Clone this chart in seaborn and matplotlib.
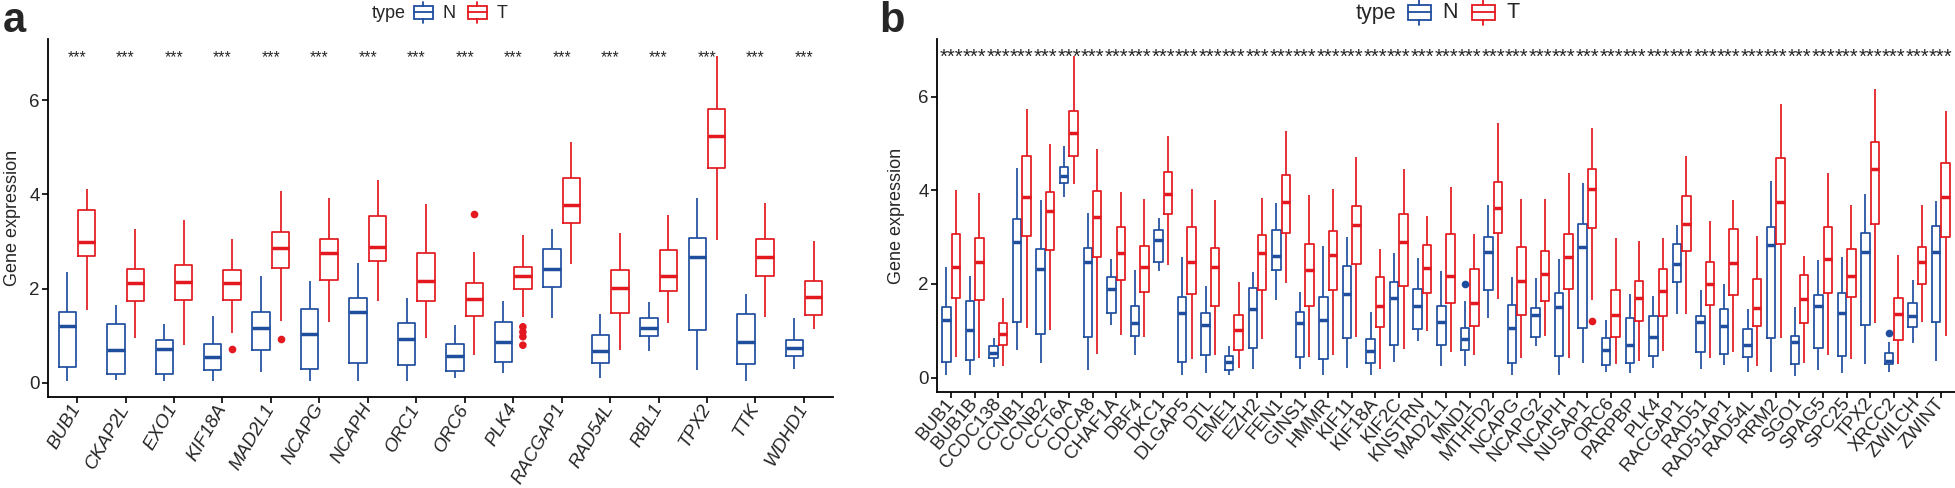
import numpy as np
import pandas as pd
import matplotlib
matplotlib.use('Agg')
import matplotlib.pyplot as plt
import seaborn as sns
from matplotlib.legend_handler import HandlerBase
from matplotlib.patches import Rectangle
from matplotlib.lines import Line2D

sns.set_style('white')
plt.rcParams['font.family'] = ['Liberation Sans', 'DejaVu Sans']

BLUE = '#1F4E9F'
RED = '#E3191F'

# ---- panel a: hub genes (five-number summaries: low whisker, Q1, median, Q3, high whisker)
genes_a = ['BUB1', 'CKAP2L', 'EXO1', 'KIF18A', 'MAD2L1', 'NCAPG', 'NCAPH', 'ORC1',
           'ORC6', 'PLK4', 'RACGAP1', 'RAD54L', 'RBL1', 'TPX2', 'TTK', 'WDHD1']
a_N = [(0.04, 0.34, 1.21, 1.50, 2.36), (0.07, 0.18, 0.69, 1.26, 1.66),
       (0.04, 0.18, 0.71, 0.92, 1.25), (0.04, 0.28, 0.54, 0.83, 1.42),
       (0.23, 0.69, 1.17, 1.51, 2.27), (0.04, 0.29, 1.03, 1.56, 2.16),
       (0.04, 0.43, 1.50, 1.80, 2.55), (0.04, 0.37, 0.93, 1.28, 1.81),
       (0.11, 0.25, 0.58, 0.83, 1.22), (0.20, 0.44, 0.86, 1.30, 1.74),
       (1.37, 2.03, 2.41, 2.84, 3.27), (0.11, 0.42, 0.68, 1.02, 1.46),
       (0.68, 1.00, 1.17, 1.37, 1.72), (0.28, 1.12, 2.68, 3.08, 3.93),
       (0.04, 0.39, 0.86, 1.46, 1.89), (0.29, 0.56, 0.74, 0.91, 1.38)]
a_T = [(1.54, 2.70, 3.00, 3.67, 4.12), (0.96, 1.73, 2.12, 2.42, 3.27),
       (0.80, 1.75, 2.15, 2.50, 3.45), (1.05, 1.76, 2.11, 2.39, 3.06),
       (1.31, 2.43, 2.87, 3.21, 4.07), (1.30, 2.19, 2.76, 3.06, 3.93),
       (1.73, 2.58, 2.89, 3.55, 4.30), (0.96, 1.73, 2.17, 2.75, 3.79),
       (0.60, 1.42, 1.78, 2.11, 2.77), (1.40, 1.99, 2.26, 2.46, 3.14),
       (2.53, 3.40, 3.77, 4.34, 5.12), (0.69, 1.49, 2.02, 2.39, 3.18),
       (1.27, 1.96, 2.26, 2.83, 3.57), (3.04, 4.56, 5.24, 5.82, 6.94),
       (1.39, 2.26, 2.68, 3.05, 3.82), (1.14, 1.45, 1.83, 2.17, 3.02)]
a_out_gene = ['KIF18A', 'MAD2L1', 'ORC6', 'PLK4', 'PLK4', 'PLK4', 'PLK4']
a_out_type = ['T', 'T', 'T', 'T', 'T', 'T', 'T']
a_out_val = [0.72, 0.93, 3.58, 1.19, 1.08, 0.98, 0.80]

# ---- panel b: all differentially expressed genes
genes_b = ['BUB1', 'BUB1B', 'CCDC138', 'CCNB1', 'CCNB2', 'CCT6A', 'CDCA8', 'CHAF1A',
           'DBF4', 'DKC1', 'DLGAP5', 'DTL', 'EME1', 'EZH2', 'FEN1', 'GINS1', 'HMMR',
           'KIF11', 'KIF18A', 'KIF2C', 'KNSTRN', 'MAD2L1', 'MND1', 'MTHFD2', 'NCAPG',
           'NCAPG2', 'NCAPH', 'NUSAP1', 'ORC6', 'PARPBP', 'PLK4', 'RACGAP1', 'RAD51',
           'RAD51AP1', 'RAD54L', 'RRM2', 'SGO1', 'SPAG5', 'SPC25', 'TPX2', 'XRCC2',
           'ZWILCH', 'ZWINT']
b_N = [(0.06, 0.34, 1.22, 1.51, 2.36), (0.06, 0.37, 1.02, 1.64, 2.18),
       (0.23, 0.41, 0.53, 0.67, 0.85), (0.58, 1.18, 2.89, 3.39, 4.49),
       (0.30, 0.93, 2.32, 2.74, 3.79), (3.85, 4.15, 4.30, 4.51, 4.96),
       (0.17, 0.86, 2.46, 2.76, 3.51), (1.13, 1.39, 1.90, 2.16, 2.54),
       (0.49, 0.89, 1.16, 1.52, 2.29), (2.27, 2.46, 2.95, 3.16, 3.41),
       (0.06, 0.34, 1.39, 1.73, 2.57), (0.09, 0.49, 1.13, 1.39, 1.96),
       (0.06, 0.15, 0.34, 0.45, 0.68), (0.18, 0.64, 1.46, 1.91, 2.25),
       (1.65, 2.29, 2.60, 3.15, 3.74), (0.19, 0.44, 1.17, 1.40, 1.82),
       (0.05, 0.39, 1.22, 1.72, 2.81), (0.21, 0.85, 1.79, 2.39, 3.01),
       (0.05, 0.30, 0.56, 0.83, 1.41), (0.34, 0.70, 1.71, 2.05, 2.66),
       (0.78, 1.04, 1.52, 1.89, 2.56), (0.24, 0.70, 1.19, 1.52, 2.27),
       (0.25, 0.59, 0.82, 1.06, 1.64), (1.27, 1.88, 2.69, 3.01, 3.68),
       (0.06, 0.31, 1.06, 1.56, 2.15), (0.68, 0.87, 1.34, 1.49, 2.12),
       (0.06, 0.45, 1.51, 1.81, 2.54), (0.31, 1.06, 2.79, 3.28, 4.16),
       (0.11, 0.27, 0.59, 0.84, 1.23), (0.10, 0.32, 0.70, 1.27, 1.78),
       (0.21, 0.46, 0.87, 1.31, 1.74), (1.36, 2.04, 2.42, 2.85, 3.27),
       (0.19, 0.54, 1.19, 1.31, 1.88), (0.26, 0.51, 1.10, 1.47, 1.99),
       (0.12, 0.44, 0.69, 1.03, 1.46), (0.12, 0.85, 2.84, 3.21, 4.21),
       (0.04, 0.28, 0.77, 0.89, 1.51), (0.17, 0.63, 1.53, 1.77, 2.51),
       (0.10, 0.46, 1.39, 1.81, 2.57), (0.29, 1.12, 2.69, 3.09, 3.93),
       (0.12, 0.29, 0.36, 0.52, 0.76), (0.73, 1.09, 1.31, 1.60, 2.08),
       (0.36, 1.18, 2.69, 3.24, 3.77)]
b_T = [(0.44, 1.69, 2.36, 3.07, 4.00), (0.42, 1.66, 2.46, 2.99, 3.94),
       (0.24, 0.69, 0.94, 1.16, 1.70), (1.05, 3.03, 3.86, 4.73, 5.75),
       (1.01, 2.72, 3.56, 3.97, 4.99), (4.14, 4.74, 5.24, 5.71, 6.88),
       (0.51, 2.57, 3.44, 3.99, 4.89), (0.91, 2.09, 2.66, 3.21, 3.97),
       (0.87, 1.83, 2.36, 2.82, 3.82), (2.41, 3.50, 3.93, 4.40, 5.16),
       (0.40, 1.78, 2.47, 3.22, 4.04), (0.49, 1.54, 2.36, 2.78, 3.79),
       (0.21, 0.59, 1.02, 1.34, 2.04), (0.82, 1.88, 2.66, 3.04, 3.84),
       (2.03, 3.10, 3.76, 4.34, 5.27), (0.44, 1.52, 2.31, 2.86, 3.91),
       (0.49, 1.87, 2.61, 3.14, 4.04), (0.86, 2.43, 3.26, 3.67, 4.71),
       (0.19, 1.08, 1.54, 2.14, 2.75), (0.61, 1.95, 2.89, 3.50, 4.46),
       (0.99, 1.81, 2.34, 2.84, 3.46), (0.54, 1.60, 2.17, 3.08, 4.07),
       (0.49, 1.11, 1.60, 2.32, 3.06), (1.67, 3.09, 3.62, 4.19, 5.44),
       (0.41, 1.34, 2.06, 2.80, 3.81), (0.89, 1.64, 2.21, 2.71, 3.82),
       (0.42, 1.89, 2.58, 3.08, 4.37), (1.66, 3.19, 4.04, 4.47, 5.33),
       (0.28, 0.87, 1.34, 1.88, 2.98), (0.36, 1.21, 1.69, 2.06, 2.93),
       (0.56, 1.32, 1.85, 2.33, 2.99), (1.35, 2.71, 3.28, 3.89, 4.74),
       (0.41, 1.56, 1.99, 2.48, 3.34), (0.54, 1.76, 2.44, 3.17, 3.79),
       (0.24, 1.11, 1.49, 2.11, 3.03), (0.84, 2.85, 3.76, 4.69, 5.86),
       (0.30, 1.16, 1.67, 2.19, 2.60), (0.48, 1.81, 2.54, 3.22, 4.37),
       (0.39, 1.73, 2.17, 2.74, 3.69), (1.16, 3.28, 4.46, 5.03, 6.16),
       (0.28, 0.80, 1.36, 1.71, 2.61), (1.18, 2.01, 2.47, 2.79, 3.69),
       (0.89, 3.01, 3.86, 4.59, 5.69)]
b_out_gene = ['MND1', 'NUSAP1', 'XRCC2']
b_out_type = ['N', 'T', 'N']
b_out_val = [1.99, 1.21, 0.96]


def long_table(genes, n_stats, t_stats):
    rows = []
    for g, n, t in zip(genes, n_stats, t_stats):
        for v in n:
            rows.append((g, 'N', v))
        for v in t:
            rows.append((g, 'T', v))
    return pd.DataFrame(rows, columns=['gene', 'type', 'value'])


class BoxKey(HandlerBase):
    # small ggplot-like boxplot key
    def create_artists(self, legend, orig, x0, y0, width, height, fontsize, trans):
        c = orig.get_color()
        cx = x0 + width / 2
        b0, b1 = y0 - 0.05 * height, y0 + 1.05 * height
        box = Rectangle((x0, b0), width, b1 - b0, fill=False, edgecolor=c,
                        linewidth=1.3, transform=trans)
        med = Line2D([x0, x0 + width], [(b0 + b1) / 2] * 2, color=c, lw=1.3, transform=trans)
        wlo = Line2D([cx, cx], [b0 - 0.4 * height, b0], color=c, lw=1.3, transform=trans)
        whi = Line2D([cx, cx], [b1, b1 + 0.4 * height], color=c, lw=1.3, transform=trans)
        return [box, med, wlo, whi]


def draw_panel(ax, genes, n_stats, t_stats, og, ot, ov, rot, italic, star_fs, star_y):
    df = long_table(genes, n_stats, t_stats)
    out = pd.DataFrame({'gene': og, 'type': ot, 'value': ov})
    sns.boxplot(data=df, x='gene', y='value', hue='type', order=genes, hue_order=['N', 'T'],
                palette=[BLUE, RED], fill=False, whis=(0, 100), width=0.8, gap=0.1,
                linewidth=1.25, showcaps=False, medianprops=dict(linewidth=2.5),
                legend=False, ax=ax)
    sns.stripplot(data=out, x='gene', y='value', hue='type', order=genes, hue_order=['N', 'T'],
                  palette=[BLUE, RED], dodge=True, jitter=False, size=5.5, linewidth=0,
                  legend=False, ax=ax)
    for i in range(len(genes)):
        ax.text(i, star_y, '***', ha='center', va='center', fontsize=star_fs)
    ax.set_xlim(-0.6, len(genes) - 0.4)
    ax.set_yticks([0, 2, 4, 6])
    ax.tick_params(axis='both', length=4, width=1.2, color='black', labelsize=13.5,
                   direction='out', bottom=True, left=True, pad=2)
    ax.set_xticks(range(len(genes)))
    ax.set_xticklabels(genes, rotation=rot, ha='right', va='center', rotation_mode='anchor',
                       fontstyle='italic' if italic else 'normal', fontsize=13.5)
    ax.set_xlabel('')
    ax.set_ylabel('Gene expression', fontsize=13)
    for s in ['top', 'right']:
        ax.spines[s].set_visible(False)
    for s in ['left', 'bottom']:
        ax.spines[s].set_linewidth(1.3)
        ax.spines[s].set_color('black')


fig = plt.figure(figsize=(19.55, 4.88), dpi=100)
W, H = 1955.0, 488.0

ax_a = fig.add_axes([48 / W, 1 - 397 / H, (833 - 48) / W, (397 - 39) / H])
draw_panel(ax_a, genes_a, a_N, a_T, a_out_gene, a_out_type, a_out_val,
           rot=60, italic=True, star_fs=11.3, star_y=6.9)
ax_a.set_ylim(-0.3, 7.3)
ax_a.yaxis.set_label_coords(-0.035, 0.5)

ax_b = fig.add_axes([937 / W, 1 - 392 / H, (1955 - 937) / W, (392 - 39) / H])
draw_panel(ax_b, genes_b, b_N, b_T, b_out_gene, b_out_type, b_out_val,
           rot=50, italic=False, star_fs=14.5, star_y=6.85)
ax_b.set_ylim(-0.31, 7.24)
ax_b.yaxis.set_label_coords(-0.031, 0.5)

# panel letters
fig.text(3 / W, 1 - 32 / H, 'a', fontsize=30, fontweight='bold', va='baseline')
fig.text(879 / W, 1 - 32 / H, 'b', fontsize=30, fontweight='bold', va='baseline')

# legends ("type  [N]  [T]") on top of each panel
keys = [Line2D([], [], color=BLUE), Line2D([], [], color=RED)]
for x_type, x_leg, fs in [(372, 414, 13), (1356, 1408, 15.5)]:
    fig.text(x_type / W, 1 - 13 / H, 'type', fontsize=fs, ha='left', va='center')
    fig.legend(keys, ['N', 'T'], loc='center left', bbox_to_anchor=(x_leg / W, 1 - 13 / H),
               ncol=2, frameon=False, fontsize=fs, handler_map={Line2D: BoxKey()},
               handlelength=1.05, handleheight=0.6, handletextpad=0.55,
               columnspacing=0.65, borderpad=0, borderaxespad=0)

fig.savefig('out.png', dpi=100)
